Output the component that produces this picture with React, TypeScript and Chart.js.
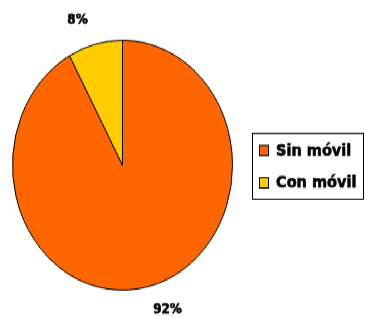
import { useEffect, useRef } from "react";
import { Chart, registerables } from "chart.js";

Chart.register(...registerables);

const categories = ["Sin móvil", "Con móvil"];
const values = [92, 8];
const percentLabels = ["92%", "8%"];
const colors = ["#FF6600", "#FFCC00"];

const CANVAS_W = 366;
const CANVAS_H = 280;
const SCALE_Y = 318 / 280;

export default function App() {
  const ref = useRef<HTMLCanvasElement>(null);

  useEffect(() => {
    if (!ref.current) return;

    const pctLabelPlugin = {
      id: "pctLabels",
      afterDatasetsDraw(chart: any) {
        const ctx = chart.ctx;
        const meta = chart.getDatasetMeta(0);
        ctx.save();
        ctx.font = "bold 12px 'DejaVu Sans'";
        ctx.fillStyle = "#000";
        ctx.strokeStyle = "#000";
        ctx.lineWidth = 0.6;
        ctx.textAlign = "center";
        ctx.textBaseline = "middle";
        meta.data.forEach((arc: any, i: number) => {
          const p = arc.getProps(["x", "y", "startAngle", "endAngle", "outerRadius"], true);
          const mid = (p.startAngle + p.endAngle) / 2 - (5 * Math.PI) / 180;
          const r = p.outerRadius + 25.5;
          const tx = p.x + r * Math.cos(mid);
          const ty = p.y + r * Math.sin(mid);
          ctx.fillText(percentLabels[i], tx, ty);
          ctx.strokeText(percentLabels[i], tx, ty);
        });
        ctx.restore();
      },
    };

    const boxLegendPlugin = {
      id: "boxLegend",
      afterDraw(chart: any) {
        const ctx = chart.ctx;
        const labels = chart.data.labels as string[];
        const bg = chart.data.datasets[0].backgroundColor as string[];
        const bx = 252.5;
        const by = 117.5;
        const bw = 111;
        const bh = 58;
        ctx.save();
        ctx.strokeStyle = "#000";
        ctx.lineWidth = 1;
        ctx.strokeRect(bx, by, bw, bh);
        ctx.font = "bold 14.5px 'DejaVu Sans'";
        ctx.textAlign = "left";
        ctx.textBaseline = "middle";
        const rowY = [132.5, 161];
        labels.forEach((lab, i) => {
          const cy = rowY[i];
          ctx.fillStyle = bg[i];
          ctx.fillRect(259.5, cy - 4.5, 9, 9);
          ctx.strokeStyle = "#000";
          ctx.lineWidth = 1;
          ctx.strokeRect(259.5, cy - 4.5, 9, 9);
          ctx.fillStyle = "#000";
          ctx.fillText(lab, 276, cy + 0.5);
          ctx.lineWidth = 0.6;
          ctx.strokeText(lab, 276, cy + 0.5);
        });
        ctx.restore();
      },
    };

    const chart = new Chart(ref.current, {
      type: "pie",
      data: {
        labels: categories,
        datasets: [
          {
            data: values,
            backgroundColor: colors,
            borderColor: "#000",
            borderWidth: 1,
          },
        ],
      },
      options: {
        responsive: false,
        animation: false,
        devicePixelRatio: 1,
        layout: { padding: { left: 12, right: 133, top: 35, bottom: 24 } },
        plugins: {
          legend: { display: false },
          tooltip: { enabled: false },
          title: { display: false },
        },
      },
      plugins: [pctLabelPlugin, boxLegendPlugin],
    });

    return () => chart.destroy();
  }, []);

  return (
    <div
      style={{
        position: "fixed",
        left: 0,
        top: 0,
        width: CANVAS_W,
        height: CANVAS_H,
        background: "#fff",
        transform: `scale(1, ${SCALE_Y})`,
        transformOrigin: "0 0",
      }}
    >
      <canvas ref={ref} width={CANVAS_W} height={CANVAS_H} />
    </div>
  );
}
